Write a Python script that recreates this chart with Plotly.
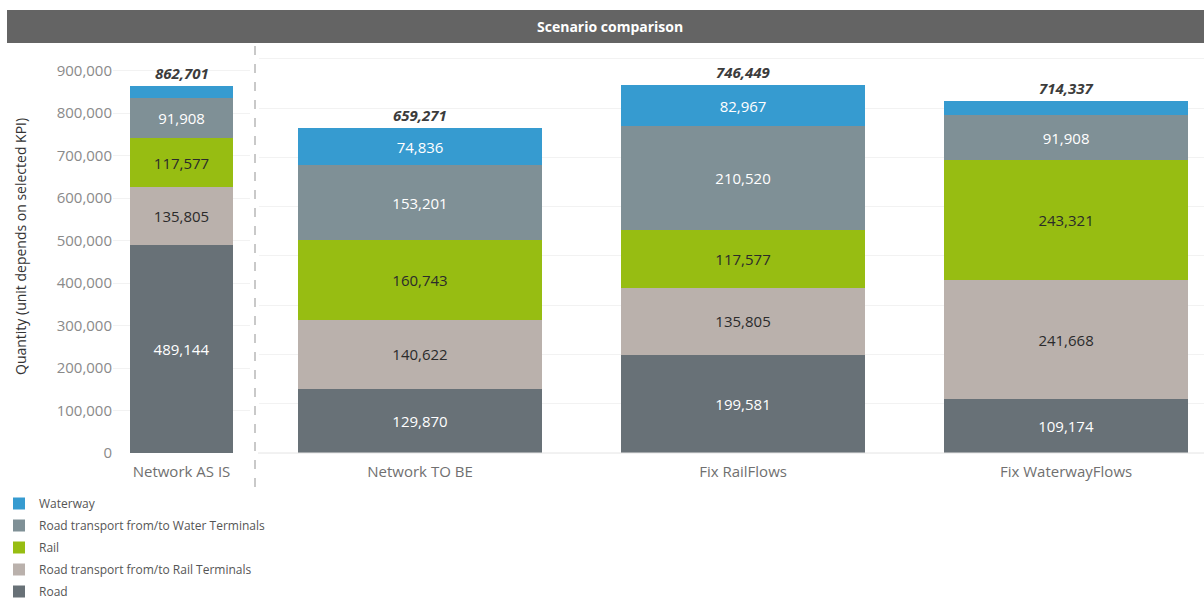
import plotly.graph_objects as go

# ---- data -------------------------------------------------------------
scenario_base = ["Network AS IS"]
scenarios = ["Network TO BE", "Fix RailFlows", "Fix WaterwayFlows"]

road = [489144, 129870, 199581, 109174]
road_rail_terminals = [135805, 140622, 135805, 241668]
rail = [117577, 160743, 117577, 243321]
road_water_terminals = [91908, 153201, 210520, 91908]
waterway = [28267, 74836, 82967, 28266]
totals = [862701, 659271, 746449, 714337]

series_names = [
    "Road",
    "Road transport from/to Rail Terminals",
    "Rail",
    "Road transport from/to Water Terminals",
    "Waterway",
]
series_values = [road, road_rail_terminals, rail, road_water_terminals, waterway]
series_colors = ["#687177", "#bab1ac", "#97bd12", "#7f9096", "#369bd0"]
label_colors = ["#ffffff", "#2b2b2b", "#2b2b2b", "#ffffff", "#ffffff"]
min_labelled = 50000  # segments thinner than this carry no label

# ---- page geometry (pixels) -------------------------------------------
W, H = 1204, 599


def px_x(x):
    return x / W


def px_y(y):
    return 1 - y / H


PLOT_TOP, PLOT_BOTTOM = 43, 453
FONT = "Open Sans"

fig = go.Figure()

all_cats = scenario_base + scenarios
n_series = len(series_names)
for k, (name, vals, col, lcol) in enumerate(
        zip(series_names, series_values, series_colors, label_colors)):
    texts = [f"{v:,}" if v >= min_labelled else "" for v in vals]
    common = dict(
        name=name,
        marker=dict(color=col, line=dict(width=0)),
        textposition="inside",
        insidetextanchor="middle",
        constraintext="none",
        textfont=dict(family=FONT, size=15, color=lcol),
        legendgroup=name,
        legendrank=n_series - k,   # top of the stack first in the legend
        hoverinfo="name+y",
    )
    fig.add_trace(go.Bar(x=all_cats[:1], y=vals[:1], text=texts[:1],
                         xaxis="x", yaxis="y", showlegend=True, **common))
    fig.add_trace(go.Bar(x=all_cats[1:], y=vals[1:], text=texts[1:],
                         xaxis="x2", yaxis="y2", showlegend=False, **common))

# totals above each stack
for i, (cat, tot) in enumerate(zip(all_cats, totals)):
    fig.add_annotation(
        x=cat, y=tot, xref="x" if i == 0 else "x2", yref="y" if i == 0 else "y2",
        text=f"<b><i>{tot:,}</i></b>", showarrow=False, yanchor="bottom", yshift=1,
        font=dict(family=FONT, size=15, color="#3c3c3c"),
    )

# header band
fig.add_shape(type="rect", xref="paper", yref="paper",
              x0=px_x(7), x1=1, y0=px_y(43), y1=px_y(10),
              fillcolor="#646464", line=dict(width=0), layer="above")
fig.add_annotation(xref="paper", yref="paper", x=px_x(610), y=px_y(26),
                   xanchor="center", yanchor="middle",
                   text="<b>Scenario comparison</b>", showarrow=False,
                   font=dict(family=FONT, size=14, color="#ffffff"))

# pane separator
fig.add_shape(type="line", xref="paper", yref="paper",
              x0=px_x(255), x1=px_x(255), y0=px_y(487), y1=px_y(43),
              line=dict(color="#b8b8b8", width=1.5, dash="dash"))
fig.add_shape(type="line", xref="paper", yref="paper",
              x0=px_x(258), x1=1, y0=px_y(PLOT_BOTTOM), y1=px_y(PLOT_BOTTOM),
              line=dict(color="#e4e4e4", width=1))

# y-axis title
fig.add_annotation(xref="paper", yref="paper", x=px_x(20), y=px_y(247),
                   xanchor="center", yanchor="middle",
                   text="Quantity (unit depends on selected KPI)", textangle=-90,
                   showarrow=False, font=dict(family=FONT, size=14, color="#333333"))

grid = "#f2f2f2"
cat_font = dict(family=FONT, size=15, color="#707070")
fig.update_layout(
    width=W, height=H,
    margin=dict(l=0, r=0, t=0, b=0, autoexpand=False),
    paper_bgcolor="#ffffff", plot_bgcolor="#ffffff",
    barmode="stack", bargap=0.245,
    font=dict(family=FONT, color="#666666"),
    xaxis=dict(domain=[px_x(113), px_x(250)], range=[-0.5, 0.5], anchor="y",
               showgrid=False, zeroline=False, showline=False, ticks="",
               ticklabelstandoff=8, tickfont=cat_font, automargin=False),
    xaxis2=dict(domain=[px_x(258.5), 1], range=[-0.5, 2.427], anchor="y2",
                showgrid=False, zeroline=False, showline=False, ticks="",
                ticklabelstandoff=8, tickfont=cat_font, automargin=False),
    yaxis=dict(domain=[px_y(PLOT_BOTTOM), px_y(PLOT_TOP)], range=[0, 965000],
               anchor="x", dtick=100000, tickformat=",", showgrid=True,
               gridcolor=grid, zeroline=False, showline=False, ticks="",
               tickfont=dict(family=FONT, size=15, color="#8a8a8a"),
               automargin=False),
    yaxis2=dict(domain=[px_y(PLOT_BOTTOM), px_y(PLOT_TOP)], range=[0, 832000],
                anchor="x2", dtick=100000, showgrid=True, gridcolor=grid,
                zeroline=False, showline=False, showticklabels=False, ticks="",
                automargin=False),
    legend=dict(x=px_x(-1), y=px_y(489), xanchor="left", yanchor="top",
                orientation="v", traceorder="grouped", tracegroupgap=3,
                font=dict(family=FONT, size=12, color="#555555"),
                bgcolor="rgba(0,0,0,0)"),
    showlegend=True,
)

fig.write_html("out.html")
